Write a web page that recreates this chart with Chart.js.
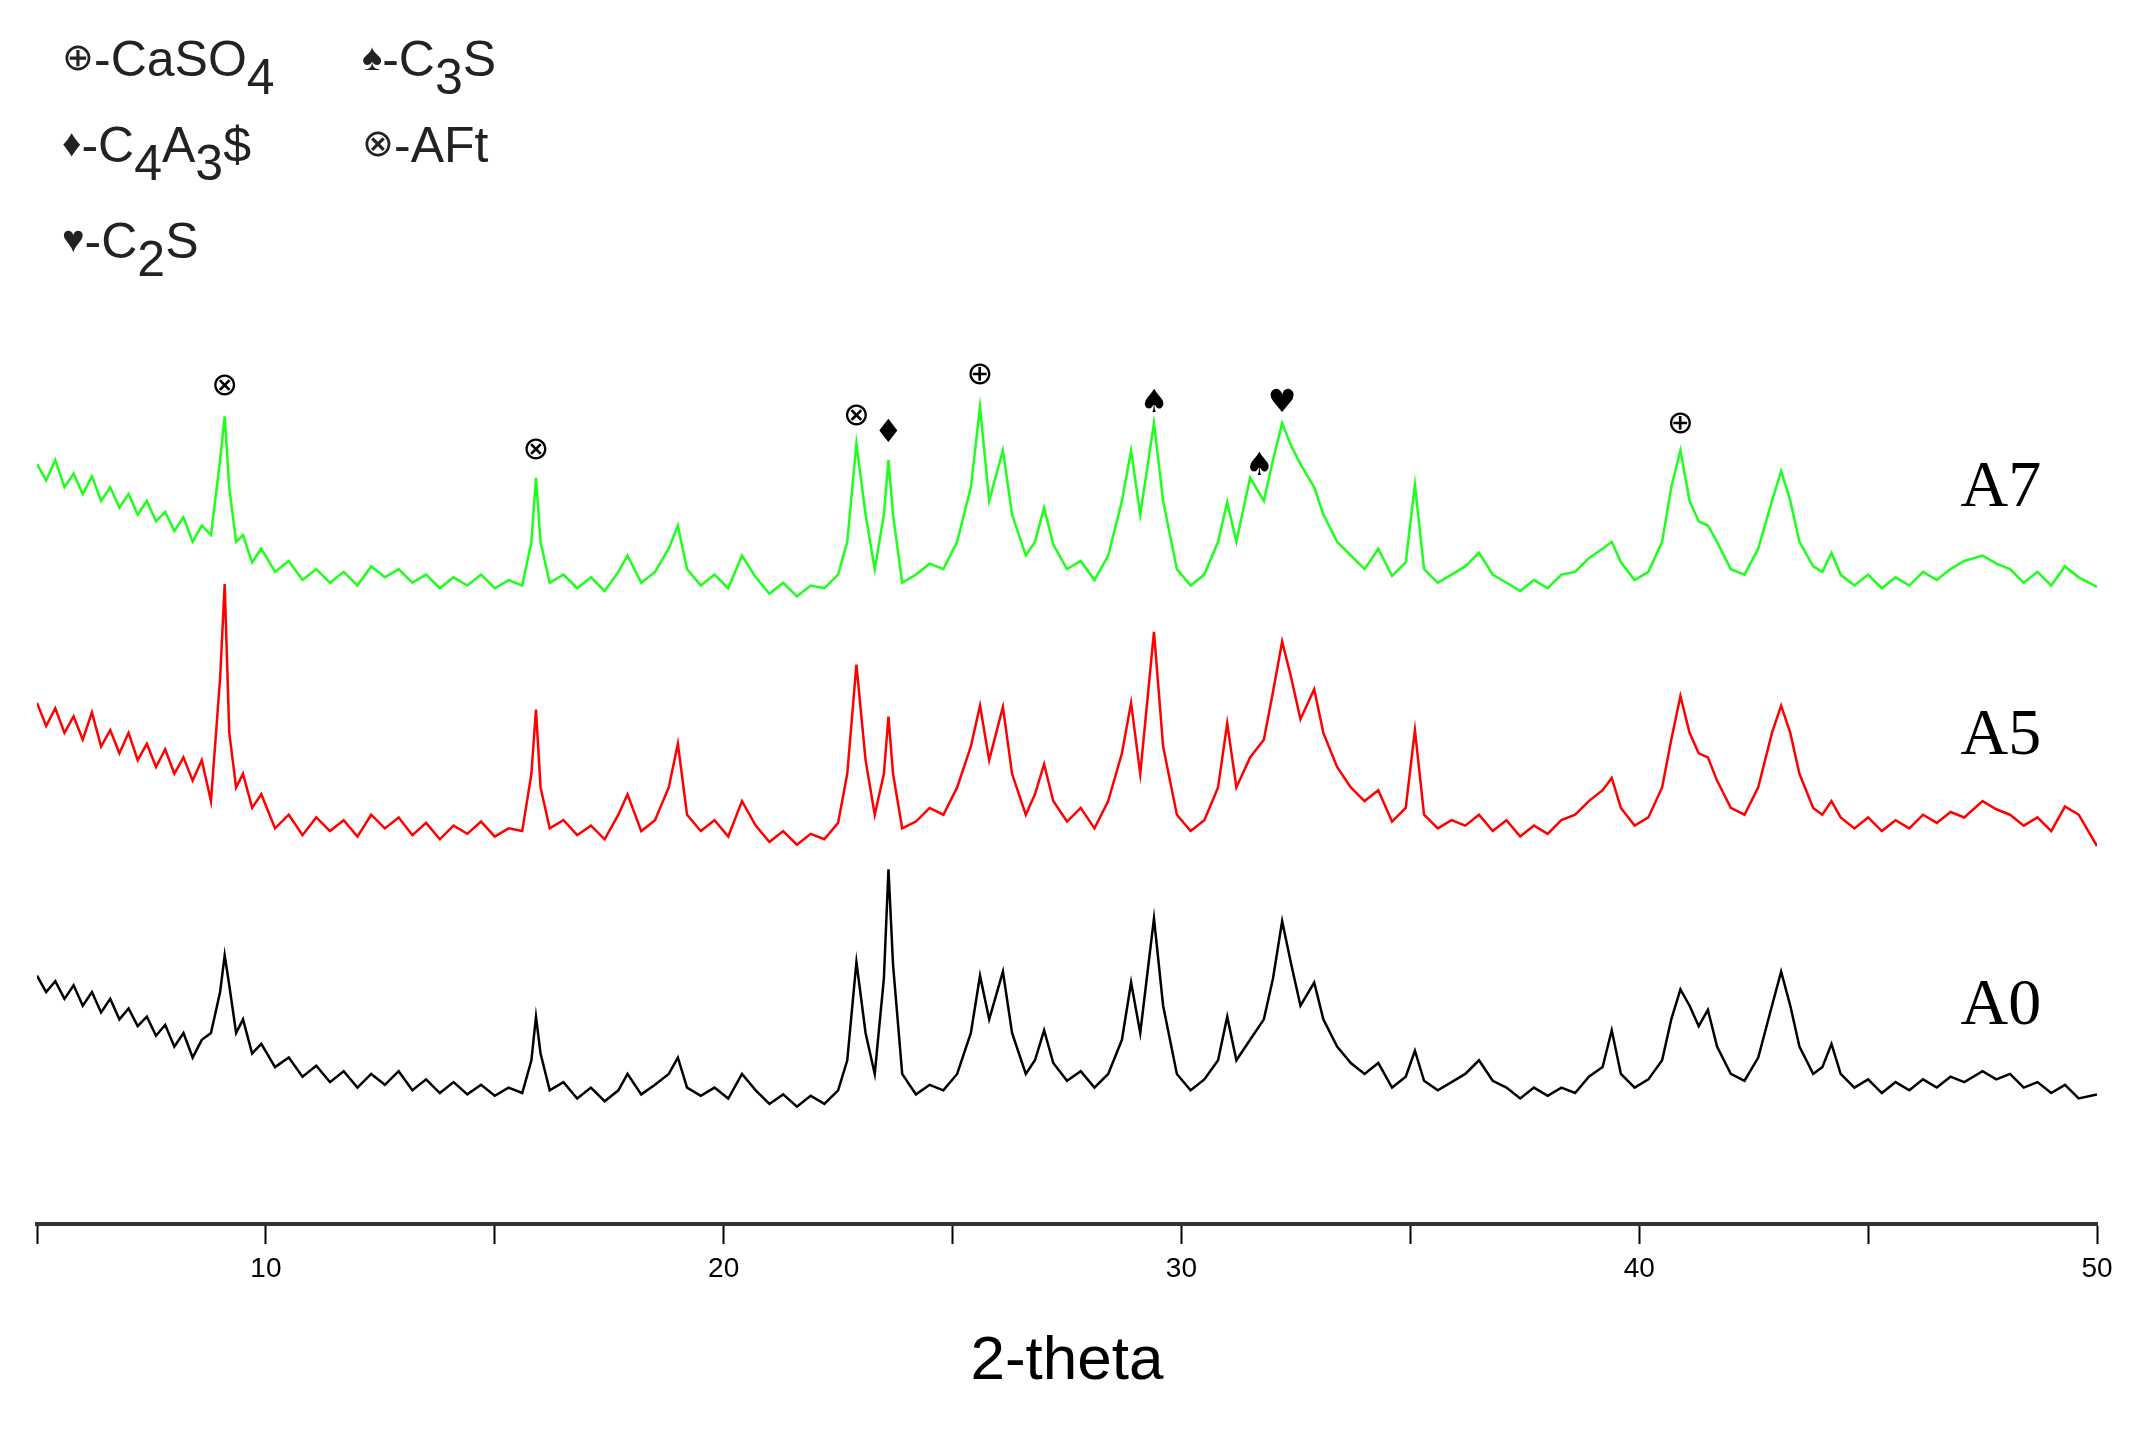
<!DOCTYPE html>
<html>
<head>
<meta charset="utf-8">
<script src="https://cdn.jsdelivr.net/npm/chart.js@4"></script>
<style>
  body { margin: 0; background: #fff; }
  #wrap { position: relative; width: 2139px; height: 1431px; }
  .leg { position: absolute; font-family: "Liberation Sans", Arial, sans-serif; font-size: 50px; color: #222; line-height: 1; }
  .leg sub { font-size: 50px; vertical-align: -18px; line-height: 0; }
  .sym { font-size: 38px; vertical-align: 6px; }
</style>
</head>
<body>
<div id="wrap">
  <canvas id="c" width="2139" height="1431"></canvas>
  <div class="leg" style="left:62px;top:34px"><span class="sym">&#8853;</span>-CaSO<sub>4</sub></div>
  <div class="leg" style="left:362px;top:34px"><span class="sym">&#9824;</span>-C<sub>3</sub>S</div>
  <div class="leg" style="left:62px;top:120px"><span class="sym">&#9830;</span>-C<sub>4</sub>A<sub>3</sub>$</div>
  <div class="leg" style="left:362px;top:120px"><span class="sym">&#8855;</span>-AFt</div>
  <div class="leg" style="left:62px;top:216px"><span class="sym">&#9829;</span>-C<sub>2</sub>S</div>
</div>
<script>
const xs = [5.0,5.2,5.4,5.6,5.8,6.0,6.2,6.4,6.6,6.8,
  7.0,7.2,7.4,7.6,7.8,8.0,8.2,8.4,8.6,8.8,
  9.0,9.1,9.2,9.35,9.5,9.7,9.9,10.2,10.5,10.8,
  11.1,11.4,11.7,12.0,12.3,12.6,12.9,13.2,13.5,13.8,
  14.1,14.4,14.7,15.0,15.3,15.6,15.8,15.9,16.0,16.2,
  16.5,16.8,17.1,17.4,17.7,17.9,18.2,18.5,18.8,19.0,
  19.2,19.5,19.8,20.1,20.4,20.7,21.0,21.3,21.6,21.9,
  22.2,22.5,22.7,22.9,23.1,23.3,23.5,23.6,23.7,23.9,
  24.2,24.5,24.8,25.1,25.4,25.6,25.8,26.1,26.3,26.6,
  26.8,27.0,27.2,27.5,27.8,28.1,28.4,28.7,28.9,29.1,
  29.4,29.6,29.9,30.2,30.5,30.8,31.0,31.2,31.5,31.8,
  32.0,32.2,32.4,32.6,32.9,33.1,33.4,33.7,34.0,34.3,
  34.6,34.9,35.1,35.3,35.6,35.9,36.2,36.5,36.8,37.1,
  37.4,37.7,38.0,38.3,38.6,38.9,39.2,39.4,39.6,39.9,
  40.2,40.5,40.7,40.9,41.1,41.3,41.5,41.7,42.0,42.3,
  42.6,42.9,43.1,43.3,43.5,43.8,44.0,44.2,44.4,44.7,
  45.0,45.3,45.6,45.9,46.2,46.5,46.8,47.1,47.5,47.8,
  48.1,48.4,48.7,49.0,49.3,49.6,50.0]

const a0 = [182,170,178,165,175,160,170,155,165,150,
  158,145,152,138,146,130,140,122,135,140,
  170,197,175,140,150,125,132,115,122,108,
  116,104,112,100,110,102,112,98,106,96,
  104,95,102,94,100,96,120,152,125,98,
  104,92,100,90,98,110,95,102,110,122,
  100,94,100,92,110,98,88,95,86,94,
  88,98,120,192,140,110,180,260,190,110,
  95,102,98,110,140,182,150,185,140,110,
  120,142,118,105,112,100,110,135,177,140,
  224,160,110,98,106,120,152,120,135,150,
  180,222,190,160,177,150,130,118,110,118,
  100,108,127,105,98,104,110,120,105,100,
  92,100,94,100,96,108,115,142,110,100,
  106,120,150,172,160,145,157,130,110,105,
  122,160,185,160,130,110,115,132,110,100,
  106,96,104,98,106,100,108,104,112,106,
  110,100,104,96,102,92,95]

const a5 = [382,365,378,360,372,355,375,350,362,345,
  360,340,352,335,348,330,342,325,340,310,
  400,469,360,320,330,305,315,290,300,285,
  298,288,296,284,300,290,298,285,294,282,
  292,286,295,284,290,288,330,377,320,290,
  296,285,292,282,300,315,288,296,320,352,
  300,288,296,284,310,292,280,288,278,286,
  282,294,330,410,340,300,330,372,330,290,
  295,305,300,320,350,380,340,379,330,300,
  315,337,310,295,305,290,310,345,382,330,
  434,350,300,288,296,320,367,320,342,355,
  390,427,400,370,392,360,335,320,310,318,
  295,305,362,300,290,296,292,300,288,296,
  284,292,286,296,300,310,318,327,305,292,
  298,320,355,387,360,345,342,325,305,300,
  320,360,380,360,330,305,300,310,298,290,
  298,288,296,290,300,294,302,298,310,304,
  300,292,298,288,306,300,277]

const a7 = [557,545,560,540,550,535,548,530,540,525,
  535,520,530,515,522,508,518,500,512,505,
  560,592,540,500,505,485,495,478,486,472,
  480,470,478,468,482,474,480,470,476,466,
  474,468,476,466,472,468,500,547,500,470,
  476,466,474,464,478,490,470,478,495,512,
  480,468,476,466,490,474,462,470,460,468,
  466,476,500,572,520,480,520,560,520,470,
  476,484,480,500,540,599,530,567,520,490,
  500,525,498,480,486,472,490,530,567,520,
  587,530,480,468,476,500,529,500,547,530,
  560,587,570,557,540,520,500,490,480,495,
  475,485,542,480,470,476,482,492,476,470,
  464,472,466,476,478,488,495,500,485,472,
  478,500,540,567,530,515,512,500,480,476,
  495,530,552,530,500,482,478,492,476,468,
  476,466,474,468,478,472,480,486,490,484,
  480,470,478,468,482,474,467]

const seriesNames = ['A7', 'A5', 'A0']
const seriesColors = ['#1eff1e', '#ff0000', '#000000']
const nameY = [539, 357, 159]

const markX = [9.1, 15.9, 22.9, 23.6, 25.6, 29.4, 31.7, 32.2, 40.9]
const markY = [614, 567, 592, 579, 622, 601, 555, 601, 586]
const markSym = ['\u2297', '\u2297', '\u2297', '\u2666', '\u2295', '\u2660', '\u2660', '\u2665', '\u2295']

const pts = ys => xs.map((x, i) => ({x: x, y: ys[i]}))

const labelsPlugin = {
  id: 'labels',
  afterDatasetsDraw(chart) {
    const c = chart.ctx, sx = chart.scales.x, sy = chart.scales.y
    c.save()
    c.fillStyle = '#000'
    c.textAlign = 'center'
    c.textBaseline = 'middle'
    c.font = '32px "DejaVu Sans"'
    markX.forEach((x, i) => c.fillText(markSym[i], sx.getPixelForValue(x), sy.getPixelForValue(markY[i])))
    c.font = '66px "Liberation Serif"'
    seriesNames.forEach((n, i) => c.fillText(n, sx.getPixelForValue(47.9), sy.getPixelForValue(nameY[i])))
    c.restore()
  }
}

new Chart(document.getElementById('c'), {
  type: 'line',
  data: {
    datasets: [a7, a5, a0].map((d, i) => ({
      label: seriesNames[i],
      data: pts(d),
      borderColor: seriesColors[i],
      borderWidth: 2.5,
      pointRadius: 0,
      tension: 0
    }))
  },
  options: {
    responsive: false,
    animation: false,
    layout: { padding: { top: 269, left: 37, right: 42, bottom: 0 } },
    plugins: { legend: { display: false }, tooltip: { enabled: false } },
    scales: {
      x: {
        type: 'linear', min: 5, max: 50,
        afterFit: s => { s.height = 207 },
        border: { color: '#333', width: 4 },
        grid: { drawOnChartArea: false, tickLength: 20, color: '#000', tickWidth: 2 },
        ticks: {
          stepSize: 5, maxRotation: 0, color: '#000', padding: 8,
          font: { family: 'Liberation Sans', size: 28 },
          callback: v => (v % 10 === 0 ? v : '')
        },
        title: {
          display: true, text: '2-theta', color: '#000',
          font: { family: 'Liberation Sans', size: 62 },
          padding: { top: 14, bottom: 32 }
        }
      },
      y: { display: false, min: 0, max: 700 }
    }
  },
  plugins: [labelsPlugin]
})
</script>
</body>
</html>
